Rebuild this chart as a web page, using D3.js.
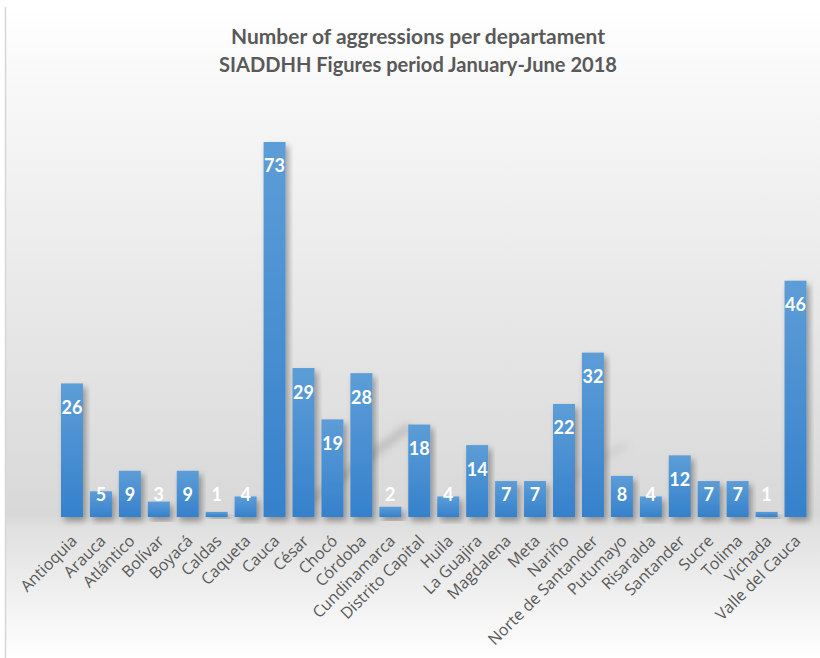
<!DOCTYPE html>
<html>
<head>
<meta charset="utf-8">
<script src="https://cdn.jsdelivr.net/npm/d3@7"></script>
<style>
  html, body { margin: 0; padding: 0; background: #ffffff; }
  svg { display: block; }
</style>
</head>
<body>
<svg id="chart" width="820" height="658"></svg>
<script>
const departments = ["Antioquia","Arauca","Atlántico","Bolívar","Boyacá","Caldas","Caqueta","Cauca","César","Chocó","Córdoba","Cundinamarca","Distrito Capital","Huila","La Guajira","Magdalena","Meta","Nariño","Norte de Santander","Putumayo","Risaralda","Santander","Sucre","Tolima","Vichada","Valle del Cauca"];
const aggressions = [26,5,9,3,9,1,4,73,29,19,28,2,18,4,14,7,7,22,32,8,4,12,7,7,1,46];
const titleLines = ["Number of aggressions per departament","SIADDHH Figures period January-June 2018"];

const W = 820, H = 658;
const svg = d3.select("#chart");
const defs = svg.append("defs");

// background gradient
const bg = defs.append("linearGradient").attr("id","bg").attr("x1",0).attr("y1",0).attr("x2",0).attr("y2",1);
bg.append("stop").attr("offset","0").attr("stop-color","#ffffff");
bg.append("stop").attr("offset","0.12").attr("stop-color","#f8f8f8");
bg.append("stop").attr("offset","0.78").attr("stop-color","#d8d8d8");
bg.append("stop").attr("offset","0.80").attr("stop-color","#e0e0e0");
bg.append("stop").attr("offset","1").attr("stop-color","#ffffff");

const barGrad = defs.append("linearGradient").attr("id","bar").attr("x1",0).attr("y1",0).attr("x2",0).attr("y2",1);
barGrad.append("stop").attr("offset","0").attr("stop-color","#5d9dd7");
barGrad.append("stop").attr("offset","1").attr("stop-color","#3581cc");

const shadow = defs.append("filter").attr("id","shadow").attr("x","-30%").attr("y","-30%").attr("width","160%").attr("height","160%");
shadow.append("feGaussianBlur").attr("in","SourceAlpha").attr("stdDeviation",3).attr("result","b");
shadow.append("feOffset").attr("in","b").attr("dx",3).attr("dy",4).attr("result","o");
shadow.append("feComponentTransfer").attr("in","o").attr("result","s")
  .append("feFuncA").attr("type","linear").attr("slope",0.35);
const m = shadow.append("feMerge");
m.append("feMergeNode").attr("in","s");
m.append("feMergeNode").attr("in","SourceGraphic");

const streakBlur = defs.append("filter").attr("id","streak").attr("x","-50%").attr("y","-50%").attr("width","200%").attr("height","200%");
streakBlur.append("feGaussianBlur").attr("stdDeviation",4);

svg.append("rect").attr("x",0).attr("y",0).attr("width",W).attr("height",H).attr("fill","#ffffff");
svg.append("rect").attr("x",6).attr("y",7).attr("width",W-6).attr("height",H-7).attr("fill","url(#bg)");
svg.append("line").attr("x1",5.5).attr("x2",5.5).attr("y1",7).attr("y2",H).attr("stroke","#d6d6d6").attr("stroke-width",1.5);

// faint diagonal shadow streaks
svg.append("line").attr("x1",298).attr("y1",510).attr("x2",410).attr("y2",426)
  .attr("stroke","#8f8f8f").attr("stroke-width",7).attr("stroke-opacity",0.5).attr("filter","url(#streak)");
svg.append("line").attr("x1",565).attr("y1",482).attr("x2",625).attr("y2",445)
  .attr("stroke","#9a9a9a").attr("stroke-width",5).attr("stroke-opacity",0.3).attr("filter","url(#streak)");

const x = d3.scaleBand().domain(departments).range([57.5, 810]).paddingInner(0.24).paddingOuter(0.12);
const y = d3.scaleLinear().domain([0, 73]).range([517, 142]);

// title
const titleWidths = [374, 398];
const title = svg.append("g");
titleLines.forEach((t, i) => {
  title.append("text")
    .attr("x", 418).attr("y", 44 + i * 28)
    .attr("text-anchor","middle")
    .attr("font-family","Lato, 'Open Sans', sans-serif")
    .attr("font-weight","bold")
    .attr("font-size", 21)
    .attr("fill","#595959")
    .attr("textLength", titleWidths[i])
    .attr("lengthAdjust","spacingAndGlyphs")
    .text(t);
});

// bars
svg.append("g").selectAll("rect").data(aggressions).join("rect")
  .attr("x", (d,i) => x(departments[i]))
  .attr("y", d => y(d))
  .attr("width", x.bandwidth())
  .attr("height", d => y(0) - y(d))
  .attr("fill","url(#bar)")
  .attr("filter","url(#shadow)");

// value labels
svg.append("g").selectAll("text").data(aggressions).join("text")
  .attr("x", (d,i) => x(departments[i]) + x.bandwidth()/2)
  .attr("y", d => Math.min(y(d) + 24, y(0) - 22))
  .attr("dy","0.36em")
  .attr("text-anchor","middle")
  .attr("font-family","Lato, 'Open Sans', sans-serif")
  .attr("font-weight","bold")
  .attr("font-size", 18)
  .attr("fill","#ffffff")
  .text(d => d);

// x axis labels
const xAxis = d3.axisBottom(x).tickSize(0).tickPadding(0);
const gx = svg.append("g").attr("transform","translate(0,517)").call(xAxis);
gx.select(".domain").remove();
gx.selectAll("text")
  .attr("font-family","'Open Sans', sans-serif")
  .attr("font-size", 16)
  .attr("fill","#595959")
  .attr("text-anchor","end")
  .attr("dy", 0)
  .attr("y", 0)
  .attr("transform","translate(6,25) rotate(-45)");
</script>
</body>
</html>
